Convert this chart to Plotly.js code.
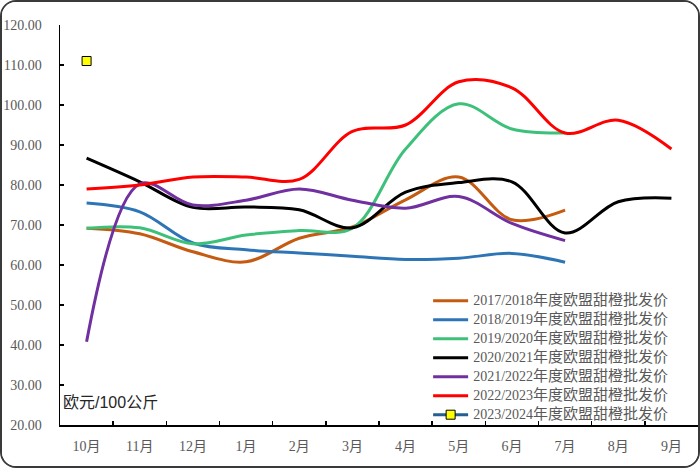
<!DOCTYPE html>
<html><head><meta charset="utf-8">
<script src="https://cdn.plot.ly/plotly-3.0.1.min.js"></script>
<style>
html,body{margin:0;padding:0;background:#fff;}
#frame{position:absolute;left:0;top:0;width:700px;height:468px;box-sizing:border-box;border:2px solid #3a3a3a;border-radius:16px;overflow:hidden;background:#fff;}
#chart{width:696px;height:464px;}
</style></head><body>
<div id="frame"><div id="chart"></div></div>
<script>
const months = ['10月','11月','12月','1月','2月','3月','4月','5月','6月','7月','8月','9月'];
const seasons = ['2017/2018','2018/2019','2019/2020','2020/2021','2021/2022','2022/2023','2023/2024'];
const nameSuffix = '年度欧盟甜橙批发价';
const s2017 = [69.2, 67.8, 63.3, 60.8, 66.7, 69.5, 76.3, 82.0, 71.3, 73.7];
const s2018 = [75.5, 73.3, 65.5, 63.8, 63.0, 62.2, 61.4, 61.7, 62.9, 60.7];
const s2019 = [69.2, 69.3, 65.3, 67.5, 68.6, 69.2, 89.0, 100.3, 94.0, 93.0];
const s2020 = [86.7, 80.8, 74.4, 74.5, 73.8, 69.3, 78.2, 80.6, 80.8, 68.0, 75.8, 76.7];
const s2021 = [40.8, 80.3, 75.0, 76.2, 79.0, 76.2, 74.2, 77.1, 70.4, 66.1];
const s2022 = [79.0, 80.0, 82.0, 82.0, 81.4, 93.4, 95.0, 105.8, 104.3, 93.0, 96.2, 89.0];
const s2023 = [111.0];
const yTicks = [20,30,40,50,60,70,80,90,100,110,120];

const colors = ['#C55A11','#2E75B6','#3DC17A','#000000','#7030A0','#FF0000','#255E91'];
const allSeries = [s2017,s2018,s2019,s2020,s2021,s2022,s2023];
const serif = 'Liberation Serif, "Noto Sans CJK SC", serif';

const traces = allSeries.map((vals,i) => {
  const t = {
    type:'scatter',
    x: months.slice(0, vals.length),
    y: vals,
    name: '<span style="font-size:14px">' + seasons[i] + '</span><span style="font-size:15px">' + nameSuffix + '</span>',
    mode: i===6 ? 'lines+markers' : 'lines',
    line: {color: colors[i], width: 3, shape: 'spline', smoothing: 1},
    hoverinfo: 'skip'
  };
  if (i===6) t.marker = {symbol:'square', size: 9, color:'#FFFF00', line:{color:'#000', width:1}};
  return t;
});

const layout = {
  width: 696, height: 464,
  margin: {l: 58, r: 0, t: 23, b: 41},
  paper_bgcolor: '#fff', plot_bgcolor: '#fff',
  showlegend: true,
  legend: {
    x: 0.577, xanchor: 'left', y: 0.347, yanchor: 'top',
    bgcolor: 'rgba(0,0,0,0)',
    font: {family: serif, size: 12, color: '#595959'},
    tracegroupgap: 0, itemwidth: 35
  },
  xaxis: {
    type: 'category',
    categoryorder: 'array', categoryarray: months,
    range: [-0.5, 11.5],
    showline: true, linecolor: '#000', linewidth: 1.5,
    ticks: 'inside', tickson: 'boundaries', ticklen: 4, tickcolor: '#000', tickwidth: 1.5,
    showgrid: false, zeroline: false,
    tickfont: {family: serif, size: 14, color: '#595959'},
    ticklabelstandoff: 8
  },
  yaxis: {
    range: [20, 120],
    tickvals: yTicks,
    tickformat: '.2f',
    showline: true, linecolor: '#000', linewidth: 1.5,
    ticks: 'inside', ticklen: 4, tickcolor: '#000', tickwidth: 1.5,
    showgrid: false, zeroline: false,
    tickfont: {family: serif, size: 14, color: '#595959'},
    ticklabelstandoff: 14
  },
  annotations: [{
    xref: 'paper', yref: 'y', x: 0.002, y: 25.6, xanchor: 'left', yanchor: 'middle',
    text: '欧元/100公斤', showarrow: false,
    font: {family: 'Liberation Sans, "Noto Sans CJK SC", sans-serif', size: 16, color: '#262626'}
  }]
};

Plotly.newPlot('chart', traces, layout, {displayModeBar: false, staticPlot: true});
</script>
</body></html>
